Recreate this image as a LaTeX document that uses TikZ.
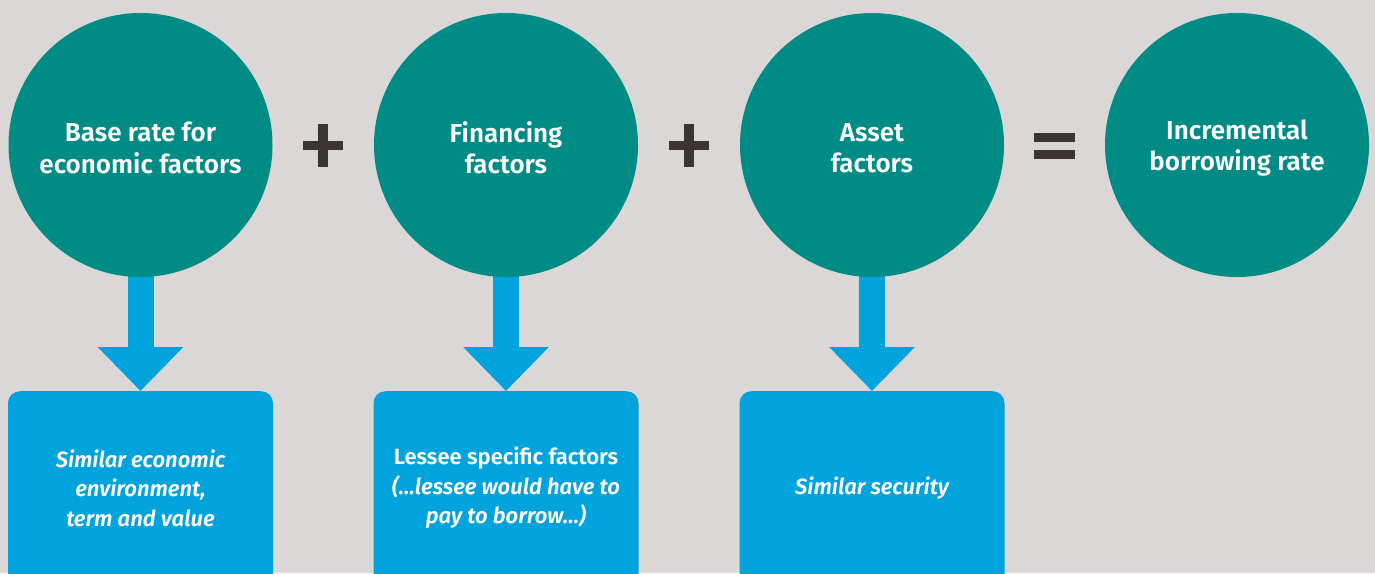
\documentclass[tikz,border=0pt]{standalone}
\usepackage{fontspec}
\setmainfont{Fira Sans}[BoldFont={Fira Sans SemiBold},BoldItalicFont={Fira Sans SemiBold Italic}]
\usetikzlibrary{arrows.meta}
\definecolor{bgc}{HTML}{DBD7D6}
\definecolor{teal}{HTML}{008B84}
\definecolor{skyb}{HTML}{00A3DB}
\definecolor{opc}{HTML}{3A3432}
\pgfdeclarelayer{bg}
\pgfsetlayers{bg,main}
\tikzset{
  bigcirc/.style={circle,fill=teal,minimum size=264pt,inner sep=0pt,text=white,align=center,
    font=\fontsize{26}{31.5}\selectfont\bfseries},
  circtext/.style={text=white,align=center,font=\fontsize{26}{31.5}\selectfont\bfseries},
  infobox/.style={rectangle,rounded corners=12pt,fill=skyb,minimum width=265pt,minimum height=230pt,inner sep=0pt,anchor=north},
  boxtext/.style={text=white,align=center,font=\fontsize{22}{29.5}\selectfont\bfseries},
  downarr/.style={draw=skyb,line width=26pt,-{Triangle[width=83pt,length=44pt]}},
  opbar/.style={fill=opc}
}
\begin{document}
\begin{tikzpicture}[x=1pt,y=-1pt]
\begin{pgfonlayer}{bg}
\fill[bgc] (0,0) rectangle (1375,573);
\end{pgfonlayer}
\useasboundingbox (0,0) rectangle (1375,573);
\clip (0,0) rectangle (1375,573);
\node[bigcirc] (c1) at (140.5,145) {};
\node[bigcirc] (c2) at (506,145) {};
\node[bigcirc] (c3) at (872,145) {};
\node[bigcirc] (c4) at (1237,145) {};
\node[circtext] (l1) at (140.5,148) {Base rate for\\economic factors};
\node[circtext] (l2) at (506,148) {Financing\\factors};
\node[circtext] (l3) at (872,148) {Asset\\factors};
\node[circtext] (l4) at (1237,148) {Incremental\\borrowing rate};
\node[infobox] (b1) at (140.5,391) {};
\node[infobox] (b2) at (506,391) {};
\node[infobox] (b3) at (872,391) {};
\node[boxtext] (t1) at (140.5,488) {\itshape Similar economic\\\itshape environment,\\\itshape term and value};
\node[boxtext] (t2) at (506,488) {Lessee specific factors\\\itshape (\ldots lessee would have to\\\itshape pay to borrow\ldots)};
\node[boxtext] (t3) at (872,488) {\itshape Similar security};
\begin{pgfonlayer}{bg}
\draw[downarr] (c1.center) -- (b1.north);
\draw[downarr] (c2.center) -- (b2.north);
\draw[downarr] (c3.center) -- (b3.north);
\end{pgfonlayer}
% plus signs
\fill[opbar] (303,140.5) rectangle (343,149.5);
\fill[opbar] (318,124) rectangle (328,167);
\fill[opbar] (669,140.5) rectangle (709,149.5);
\fill[opbar] (684,124) rectangle (694,167);
% equals sign
\fill[opbar] (1034,133) rectangle (1075,142);
\fill[opbar] (1034,150) rectangle (1075,159);
\end{tikzpicture}
\end{document}
